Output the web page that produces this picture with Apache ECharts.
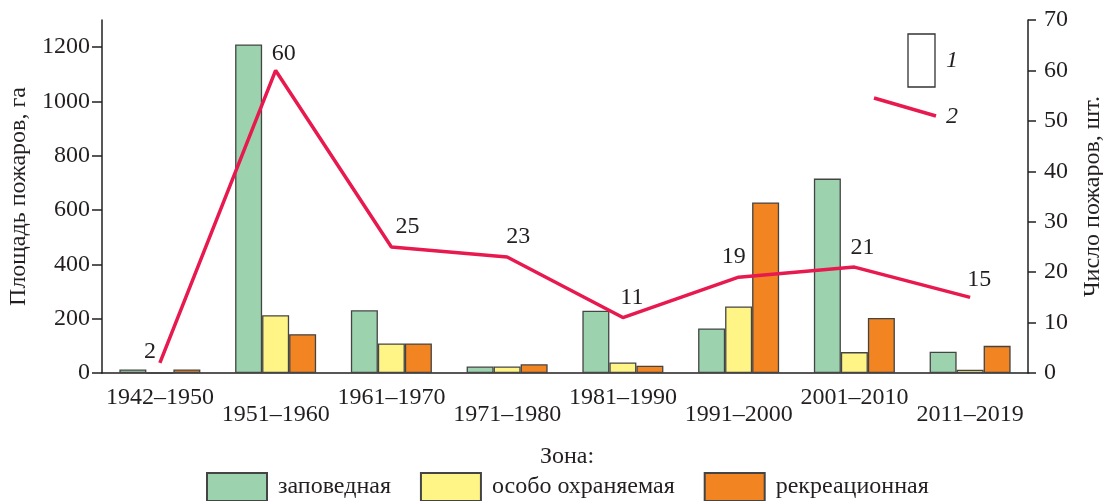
<!DOCTYPE html>
<html>
<head>
<meta charset="utf-8">
<script src="https://cdn.jsdelivr.net/npm/echarts@6/dist/echarts.min.js"></script>
<style>
  html, body { margin: 0; padding: 0; background: #fff; }
  #main { width: 1103px; height: 501px; }
</style>
</head>
<body>
<div id="main"></div>
<script>
// периоды
var periods = ['1942–1950', '1951–1960', '1961–1970', '1971–1980', '1981–1990', '1991–2000', '2001–2010', '2011–2019'];
// площадь пожаров, га
var zapovednaya = [13, 1210, 231, 24, 229, 164, 716, 78];
var osoboOhr = [0, 213, 109, 24, 39, 245, 77, 12];
var rekreac = [13, 143, 109, 32, 27, 628, 203, 100];
// число пожаров, шт.
var fireCount = [2, 60, 25, 23, 11, 19, 21, 15];
var leftTicks = [0, 200, 400, 600, 800, 1000, 1200];

var font = 'Liberation Serif';
var ink = '#231f20';
var red = '#e8194e';

// сдвиг подписей над линией
var labelShift = [[-10, 6], [8, 0], [16, -3], [11, -3], [9, -3], [-5, -3], [8, -2], [9, -1]];

var chart = echarts.init(document.getElementById('main'));

function barSeries(name, data, color) {
    return {
        name: name,
        type: 'bar',
        yAxisIndex: 0,
        barWidth: 27,
        barGap: '0%',
        data: data,
        itemStyle: { color: color, borderColor: '#444', borderWidth: 1.3 }
    };
}

var option = {
    animation: false,
    textStyle: { fontFamily: font, color: ink },
    title: {
        text: 'Зона:',
        left: 535,
        top: 440,
        textStyle: { fontFamily: font, fontWeight: 'normal', fontSize: 24, color: ink }
    },
    legend: {
        top: 467,
        left: 201,
        icon: 'rect',
        itemWidth: 60,
        itemHeight: 28,
        itemGap: 29,
        data: ['заповедная', 'особо охраняемая', 'рекреационная'],
        textStyle: { fontFamily: font, fontSize: 24, color: ink, padding: [0, 0, 0, 6] }
    },
    grid: { left: 102, right: 75, top: 20, bottom: 128, outerBoundsMode: 'none', containLabel: false },
    xAxis: {
        type: 'category',
        data: periods,
        axisLine: { lineStyle: { color: ink, width: 1.5 } },
        axisTick: { length: 10, lineStyle: { color: ink, width: 1.5 } },
        axisLabel: {
            interval: 0,
            margin: 13,
            hideOverlap: false,
            fontFamily: font,
            fontSize: 24,
            color: ink,
            formatter: function (v, i) {
                return i % 2 === 0 ? '{a|' + v + '}' : '{b|' + v + '}';
            },
            rich: {
                a: { fontFamily: font, fontSize: 24, color: ink },
                b: { fontFamily: font, fontSize: 24, color: ink, padding: [17, 0, 0, 0] }
            }
        }
    },
    yAxis: [
        {
            type: 'value',
            min: 0,
            max: 1300,
            name: 'Площадь пожаров, га',
            nameLocation: 'middle',
            nameGap: 66,
            nameRotate: 90,
            nameTextStyle: { fontFamily: font, fontSize: 24, color: ink },
            splitLine: { show: false },
            axisLine: { show: true, lineStyle: { color: ink, width: 1.5 } },
            axisTick: { show: true, inside: false, length: 10, customValues: leftTicks, lineStyle: { color: ink, width: 1.5 } },
            axisLabel: {
                customValues: leftTicks, margin: 12, fontFamily: font, fontSize: 24, color: ink,
                formatter: function (v) { return String(v); }
            }
        },
        {
            type: 'value',
            min: 0,
            max: 70,
            interval: 10,
            position: 'right',
            name: 'Число пожаров, шт.',
            nameLocation: 'middle',
            nameGap: 53,
            nameRotate: 90,
            nameTextStyle: { fontFamily: font, fontSize: 24, color: ink },
            splitLine: { show: false },
            axisLine: { show: true, lineStyle: { color: ink, width: 1.5 } },
            axisTick: { show: true, inside: false, length: 8, lineStyle: { color: ink, width: 1.5 } },
            axisLabel: { margin: 16, fontFamily: font, fontSize: 24, color: ink }
        }
    ],
    series: [
        barSeries('заповедная', zapovednaya, '#9cd3ae'),
        barSeries('особо охраняемая', osoboOhr, '#fff587'),
        barSeries('рекреационная', rekreac, '#f28422'),
        {
            name: 'число',
            type: 'line',
            yAxisIndex: 1,
            symbol: 'circle',
            symbolSize: 0.1,
            showSymbol: true,
            z: 5,
            lineStyle: { color: red, width: 3.5 },
            itemStyle: { color: red },
            data: fireCount.map(function (v, i) {
                return { value: v, label: { offset: labelShift[i] } };
            }),
            label: {
                show: true,
                position: 'top',
                fontFamily: font,
                fontSize: 24,
                color: ink
            }
        }
    ],
    graphic: [
        { type: 'rect', shape: { x: 908, y: 34, width: 27, height: 53 }, style: { fill: '#fff', stroke: '#333', lineWidth: 1.3 } },
        { type: 'text', x: 946, y: 49, style: { text: '1', font: 'italic 24px "Liberation Serif"', fill: ink } },
        { type: 'line', shape: { x1: 874, y1: 98, x2: 936, y2: 116 }, style: { stroke: red, lineWidth: 3.5 } },
        { type: 'text', x: 946, y: 105, style: { text: '2', font: 'italic 24px "Liberation Serif"', fill: ink } }
    ]
};

chart.setOption(option);
</script>
</body>
</html>
